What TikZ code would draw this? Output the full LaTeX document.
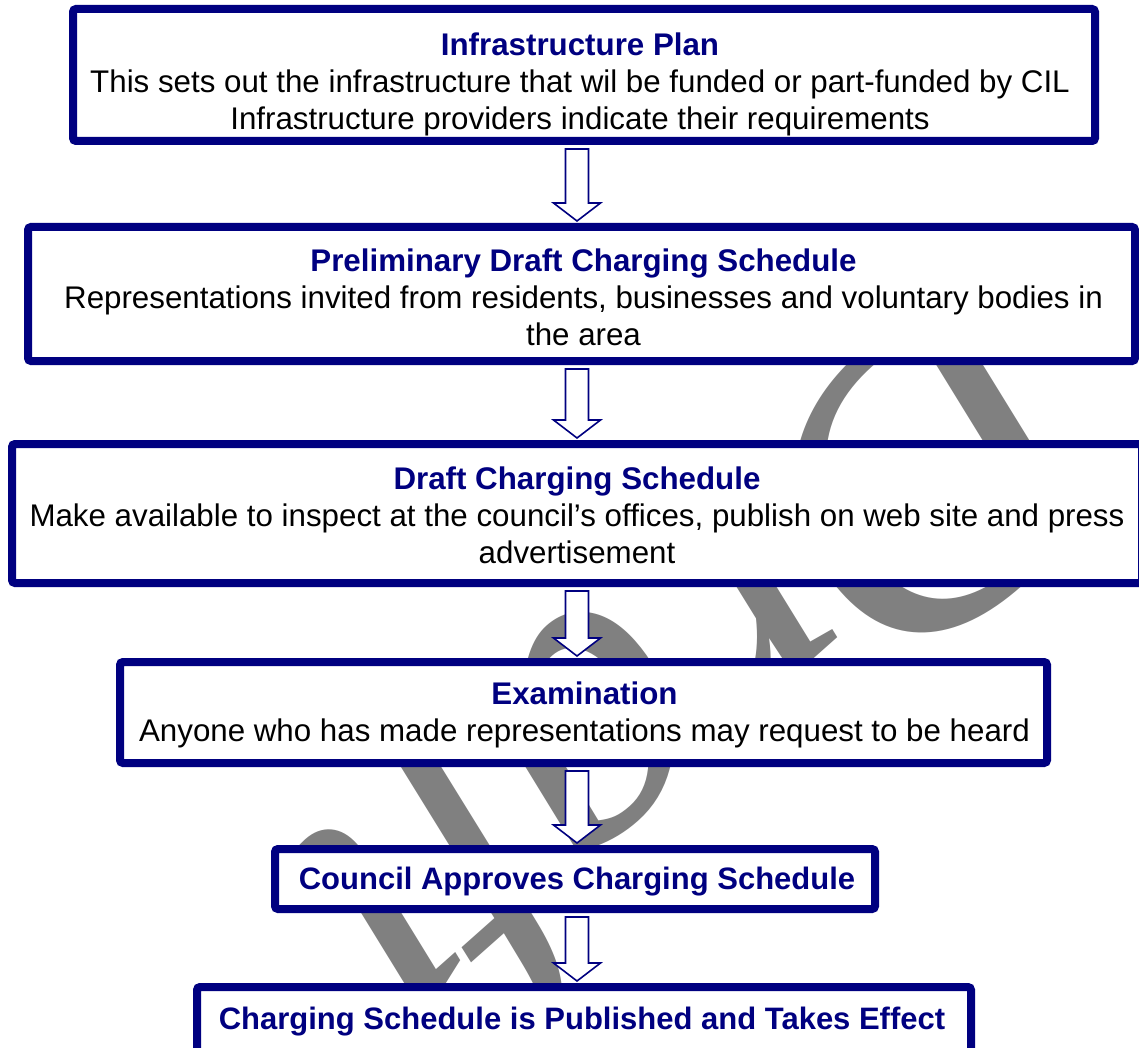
\documentclass[tikz,border=0pt]{standalone}
\usepackage{fontspec}
\setmainfont{Liberation Sans}
\newfontfamily\wmfont{Liberation Serif}
\usetikzlibrary{calc}
\definecolor{navy}{RGB}{0,0,128}
\definecolor{wmgray}{RGB}{128,128,128}
\begin{document}
\begin{tikzpicture}[x=1pt,y=-1pt,
  stagebox/.style={draw=navy, line width=8pt, fill=white, rounded corners=3pt, inner sep=0pt},
  stagetext/.style={align=center, inner sep=0pt, text=black, font=\fontsize{31.3}{37}\selectfont},
  ttl/.style={text=navy, font=\bfseries\fontsize{31}{37}\selectfont, inner sep=0pt},
  blockarrow/.style={draw=navy, line width=1.6pt, fill=white, line join=miter}]
\clip (0,0) rectangle (1139,1048);
\fill[white] (0,0) rectangle (1139,1048);
% faint watermark behind the stages
\node[text=wmgray, font=\wmfont\itshape\fontsize{430}{430}\selectfont, rotate=221.6, inner sep=0pt] (wm) at (680,655) {Draft};
% stage boxes
\node[stagebox, minimum width=1022pt, minimum height=132pt] (b1) at (584,75) {};
\node[stagebox, minimum width=1107pt, minimum height=134pt] (b2) at (581.5,294) {};
\node[stagebox, minimum width=1130pt, minimum height=139pt] (b3) at (577,513.5) {};
\node[stagebox, minimum width=927pt, minimum height=101pt] (b4) at (583.5,712.5) {};
\node[stagebox, minimum width=600pt, minimum height=60pt] (b5) at (575,879) {};
\node[stagebox, minimum width=774pt, minimum height=65pt] (b6) at (584,1019.5) {};
% stage texts
\node[stagetext] (t1) at ($(b1.center)+(-4,9)$) {{\color{navy}\bfseries Infrastructure Plan}\\
  This sets out the infrastructure that wil be funded or part-funded by CIL\\
  Infrastructure providers indicate their requirements};
\node[stagetext] (t2) at ($(b2.center)+(2,3)$) {{\color{navy}\bfseries Preliminary Draft Charging Schedule}\\
  Representations invited from residents, businesses and voluntary bodies in\\
  the area};
\node[stagetext] (t3) at ($(b3.center)+(0,2)$) {{\color{navy}\bfseries Draft Charging Schedule}\\
  Make available to inspect at the council’s offices, publish on web site and press\\
  advertisement};
\node[stagetext] (t4) at ($(b4.center)+(1,2.5)$) {{\color{navy}\bfseries Examination}\\
  Anyone who has made representations may request to be heard};
\node[ttl] (t5) at ($(b5.center)+(2,3)$) {Council Approves Charging Schedule};
\node[ttl] (t6) at ($(b6.center)+(-2,2.5)$) {Charging Schedule is Published and Takes Effect};
% block arrows between stages
\coordinate (ax) at (577,0);
\foreach \a/\b in {b1/b2, b2/b3, b3/b4, b4/b5, b5/b6}{
  \coordinate (top) at ($(\a.south -| ax)+(0,4)$);
  \coordinate (tip) at ($(\b.north -| ax)+(0,-2)$);
  \draw[blockarrow] ($(top)+(-11.5,0)$) -- ($(tip)+(-11.5,-18)$) -- ($(tip)+(-23.5,-18)$)
    -- (tip) -- ($(tip)+(23.5,-18)$) -- ($(tip)+(11.5,-18)$) -- ($(top)+(11.5,0)$) -- cycle;
}
\end{tikzpicture}
\end{document}
